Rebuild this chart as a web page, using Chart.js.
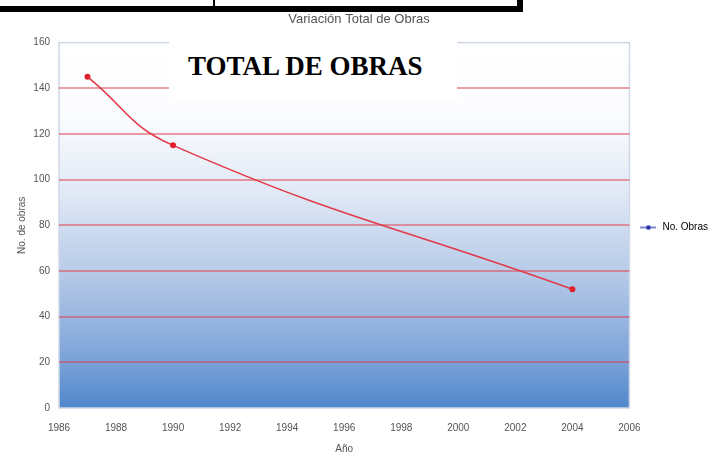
<!DOCTYPE html>
<html>
<head>
<meta charset="utf-8">
<script src="https://cdn.jsdelivr.net/npm/chart.js@4"></script>
<style>
  body { margin: 0; background: #fff; }
  #wrap { position: relative; width: 715px; height: 455px; overflow: hidden; }
  #tabla { position: absolute; left: 0; top: 0; width: 517px; height: 6px;
           border-bottom: 6px solid #000; border-right: 6px solid #000; }
  #div1 { position: absolute; left: 213px; top: 0; width: 2px; height: 12px; background: #000; }
  #caja { position: absolute; left: 169px; top: 32px; width: 288px; height: 66px; background: #fff; }
  #caja span { position: absolute; left: 19px; top: 19px; font: bold 27px "Liberation Serif", "Times New Roman", serif;
               color: #000; white-space: nowrap; }
</style>
</head>
<body>
<div id="wrap">
  <canvas id="grafico" width="715" height="455"></canvas>
  <div id="tabla"></div>
  <div id="div1"></div>
  <div id="caja"><span>TOTAL DE OBRAS</span></div>
</div>
<script>
// datos
let anios = [1987, 1990, 2004];
let obras = [145, 115, 52];
let serie = "No. Obras";

let puntos = anios.map((a, i) => ({ x: a, y: obras[i] }));

// icono de la leyenda (linea azul con punto)
let icono = document.createElement("canvas");
icono.width = 16; icono.height = 6;
let ic = icono.getContext("2d");
ic.strokeStyle = "#2b3fae"; ic.lineWidth = 1.2;
ic.beginPath(); ic.moveTo(0, 3); ic.lineTo(16, 3); ic.stroke();
ic.fillStyle = "#1f2fa8";
ic.beginPath(); ic.arc(8, 3, 2.3, 0, Math.PI * 2); ic.fill();

const fondo = {
  id: "fondo",
  beforeDraw(chart) {
    let a = chart.chartArea, ctx = chart.ctx;
    let g = ctx.createLinearGradient(0, a.top, 0, a.bottom);
    g.addColorStop(0, "#ffffff");
    g.addColorStop(0.2, "#fbfcfe");
    g.addColorStop(0.4, "#e2eaf6");
    g.addColorStop(0.62, "#b9cce9");
    g.addColorStop(0.87, "#7ba2d8");
    g.addColorStop(1, "#5087cb");
    ctx.save();
    ctx.fillStyle = g;
    ctx.fillRect(a.left, a.top, a.right - a.left, a.bottom - a.top);
    ctx.strokeStyle = "#cfd8e6"; ctx.lineWidth = 1.5;
    ctx.strokeRect(a.left, a.top, a.right - a.left, a.bottom - a.top);
    ctx.restore();
  }
};

const config = {
  type: "line",
  data: {
    datasets: [{
      label: serie,
      data: puntos,
      borderColor: "#e23a48",
      backgroundColor: "#e0202e",
      borderWidth: 1.6,
      pointRadius: 3,
      pointBorderWidth: 0,
      tension: 0.45
    }]
  },
  options: {
    responsive: false,
    animation: false,
    layout: { padding: { left: 0, right: -3, top: 0, bottom: 0 } },
    plugins: {
      title: {
        display: true,
        text: "Variación Total de Obras",
        color: "#555",
        font: { family: "Liberation Sans, Arial, sans-serif", size: 13, weight: "normal" },
        padding: { top: 12, bottom: 15 }
      },
      legend: {
        position: "right",
        labels: {
          usePointStyle: true,
          pointStyleWidth: 18,
          padding: 10,
          color: "#444",
          font: { family: "Liberation Sans, Arial, sans-serif", size: 10 },
          generateLabels: () => [{
            text: serie, pointStyle: icono, fillStyle: "#2b3fae",
            strokeStyle: "#2b3fae", lineWidth: 0, datasetIndex: 0, hidden: false
          }]
        }
      },
      tooltip: { enabled: false }
    },
    scales: {
      x: {
        type: "linear",
        min: 1986, max: 2006,
        afterFit: s => { s.height = 47; },
        ticks: { stepSize: 2, padding: 14, color: "#555",
                 font: { family: "Liberation Sans, Arial, sans-serif", size: 10 },
                 callback: v => String(v) },
        grid: { display: false, drawTicks: false },
        border: { display: false },
        title: { display: true, text: "Año", color: "#555", padding: { top: 0, bottom: 0 },
                 font: { family: "Liberation Sans, Arial, sans-serif", size: 10 } }
      },
      y: {
        min: 0, max: 160,
        afterFit: s => { s.width = 59; },
        ticks: { stepSize: 20, padding: 9, color: "#555",
                 font: { family: "Liberation Sans, Arial, sans-serif", size: 10 } },
        grid: {
          drawTicks: false,
          lineWidth: 2,
          color: c => (c.tick.value > 0 && c.tick.value < 160) ? "rgba(226,60,75,0.5)" : "rgba(0,0,0,0)"
        },
        border: { display: false },
        title: { display: true, text: "No. de obras", color: "#555", padding: { top: 16, bottom: 0 },
                 font: { family: "Liberation Sans, Arial, sans-serif", size: 10 } }
      }
    }
  },
  plugins: [fondo]
};

new Chart(document.getElementById("grafico"), config);
</script>
</body>
</html>
